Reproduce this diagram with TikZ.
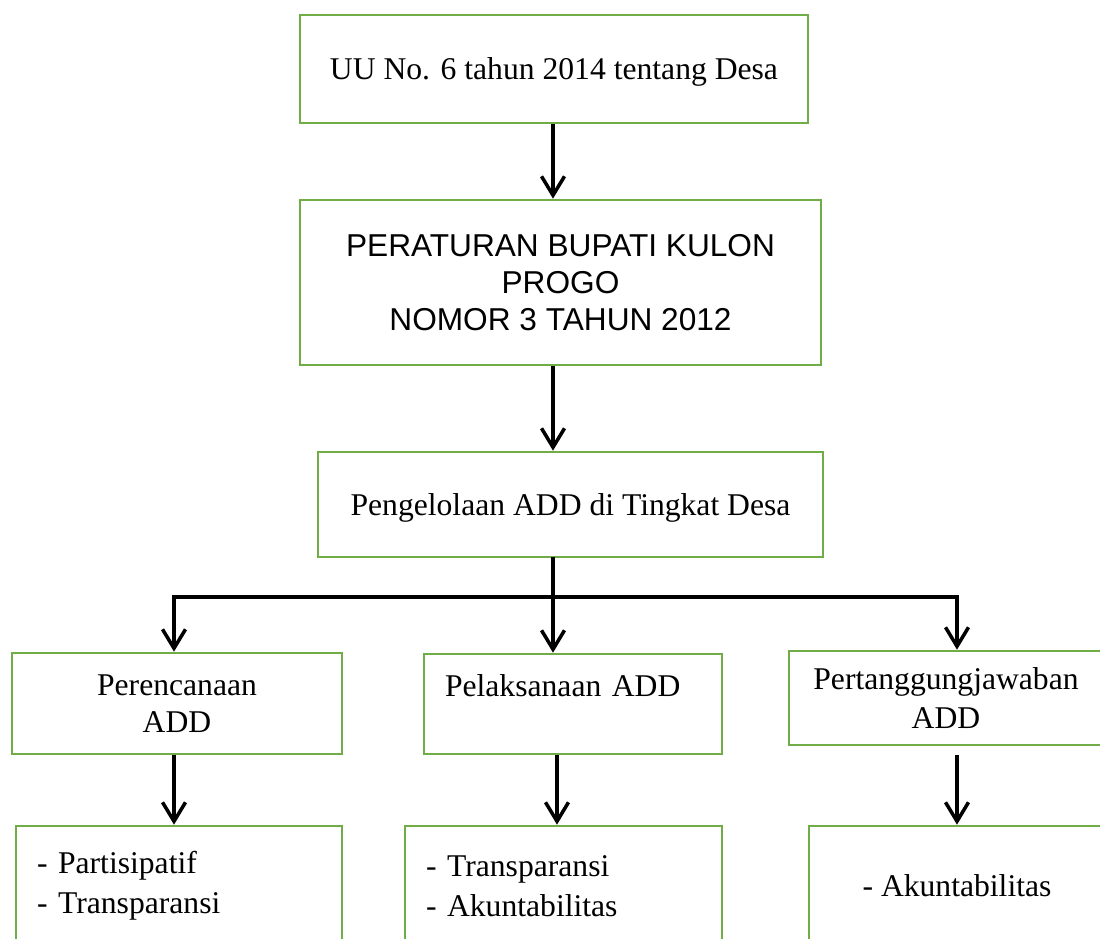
\documentclass[tikz,border=0pt]{standalone}
\usepackage{fontspec}
\setmainfont{Liberation Serif}
\newfontfamily\arialfont{Liberation Sans}
\usetikzlibrary{arrows.meta}
\definecolor{boxgreen}{RGB}{112,173,71}

\begin{document}
\begin{tikzpicture}[
  box/.style={draw=boxgreen,line width=1.5pt,rectangle,inner sep=0pt,align=center,
    font=\fontsize{18}{21}\selectfont},
  listbox/.style={box,inner xsep=0.42cm,align=left,minimum height=2.4cm,
    font=\fontsize{18}{22.6}\selectfont},
  flow/.style={draw,line width=2pt,-{Straight Barb[length=3.8mm,width=4.6mm]}},
  link/.style={draw,line width=2pt,line cap=rect},
]
\useasboundingbox (0,0) rectangle (22,-18.76);

\node[box,minimum width=10.16cm,minimum height=2.16cm,text depth=0pt] (uu) at (11.08,-1.38) {UU No. 6 tahun 2014 tentang Desa};
\node[box,minimum width=10.42cm,minimum height=3.3cm,font=\arialfont\fontsize{18}{21}\selectfont] (perbup) at (11.21,-5.65) {PERATURAN BUPATI KULON\\PROGO\\NOMOR 3 TAHUN 2012};
\node[box,minimum width=10.1cm,minimum height=2.1cm,text depth=0pt] (kelola) at (11.41,-10.09) {Pengelolaan ADD di Tingkat Desa};

\node[box,minimum width=6.6cm,minimum height=2.02cm] (rencana) at (3.54,-14.07) {Perencanaan\\ADD};
\node[box,inner xsep=0.42cm,text width=5.12cm,align=left,minimum height=2.0cm] (laksana) at (11.46,-14.08) {Pelaksanaan ADD\\\mbox{}};
\node[box,minimum width=6.28cm,minimum height=1.88cm,font=\fontsize{18}{22}\selectfont] (tanggung) at (18.92,-13.96) {Pertanggungjawaban\\ADD};

\node[listbox,text width=5.68cm] (prinsip1) at (3.58,-17.72) {- Partisipatif\\- Transparansi};
\node[listbox,text width=5.5cm] (prinsip2) at (11.27,-17.72) {- Transparansi\\- Akuntabilitas};
\node[box,minimum width=5.92cm,minimum height=2.4cm] (prinsip3) at (19.14,-17.72) {- Akuntabilitas};

\coordinate (barl) at (3.48,-11.94);
\coordinate (barm) at (11.06,-11.94);
\coordinate (barr) at (19.14,-11.94);
\coordinate (laksanax) at (11.14,-15.1);
\coordinate (tanggungx) at (19.14,-15.1);

\path[flow] (uu.south -| barm) -- (perbup.north -| barm);
\path[flow] (perbup.south -| barm) -- (kelola.north -| barm);
\path[link] (kelola.south -| barm) -- (barm);
\path[link] (barl) -- (barr);

\path[flow] (barl) -- (rencana.north -| barl);
\path[flow] (barm) -- (laksana.north -| barm);
\path[flow] (barr) -- (tanggung.north -| barr);

\path[flow] (rencana.south -| barl) -- (prinsip1.north -| barl);
\path[flow] (laksana.south -| laksanax) -- (prinsip2.north -| laksanax);
\path[flow] (tanggungx) -- (prinsip3.north -| tanggungx);
\end{tikzpicture}
\end{document}
